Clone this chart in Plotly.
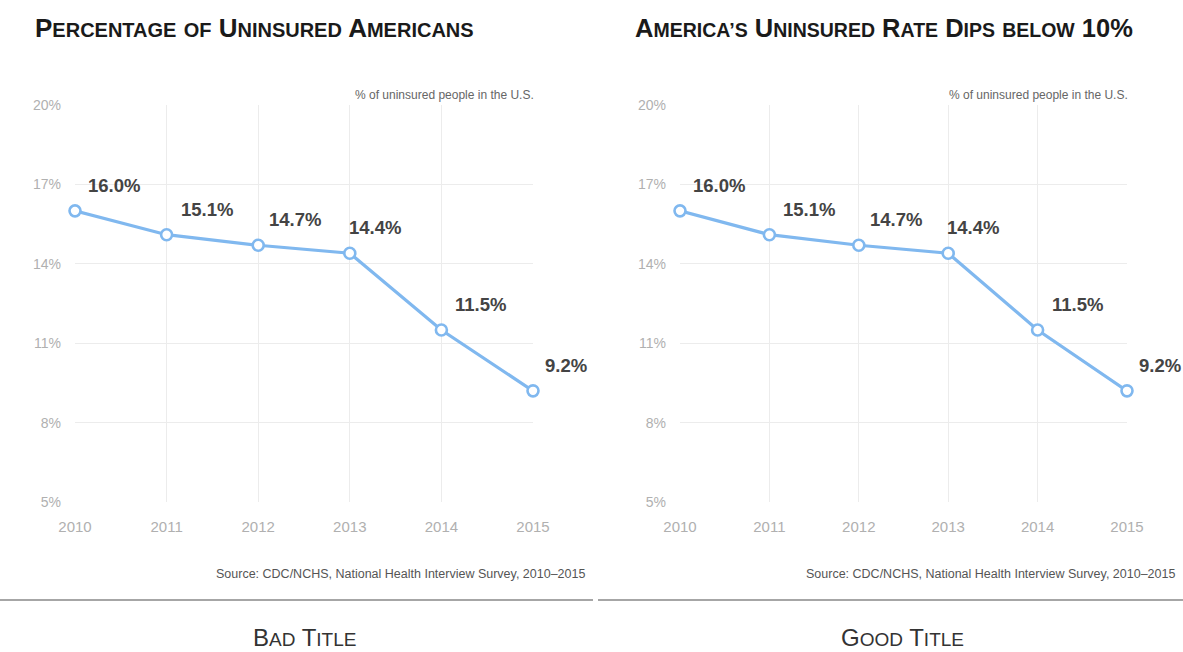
import plotly.graph_objects as go

years = [2010, 2011, 2012, 2013, 2014, 2015]
uninsured = [16.0, 15.1, 14.7, 14.4, 11.5, 9.2]
y_ticks = [5, 8, 11, 14, 17, 20]
y_tick_labels = ["5%", "8%", "11%", "14%", "17%", "20%"]
label_xshift = [11, 12, 9, -3, 12, 10]

W, H = 1183, 652
LINE = "#80b8ef"
FONT = "Liberation Sans, Arial, sans-serif"

def px_x(p):
    return p / W

def px_y(p):
    return 1 - p / H

fig = go.Figure()

panels = [("x", "y"), ("x2", "y2")]
for xa, ya in panels:
    fig.add_trace(go.Scatter(
        x=years, y=uninsured, xaxis=xa, yaxis=ya, mode="lines+markers",
        line=dict(color=LINE, width=3.2),
        marker=dict(symbol="circle", size=11, color="white",
                    line=dict(color=LINE, width=2.6)),
        cliponaxis=False, showlegend=False, hoverinfo="skip"))
    for i, (yr, v) in enumerate(zip(years, uninsured)):
        fig.add_annotation(x=yr, y=v, xref=xa, yref=ya, text=f"{v:.1f}%",
                           showarrow=False, xanchor="left", yanchor="bottom",
                           xshift=label_xshift[i], yshift=13,
                           font=dict(family=FONT, size=18.5, color="#444444", weight="bold"))

axis_common = dict(range=[2010, 2015], tickvals=years, ticktext=[str(y) for y in years],
                   showgrid=True, gridcolor="#ececec", gridwidth=1, zeroline=False,
                   showline=False, ticks="", ticklabelstandoff=14, automargin=False,
                   tickfont=dict(family=FONT, size=15, color="#b0b0b0"), fixedrange=True)
yaxis_common = dict(range=[5, 20], tickvals=y_ticks, ticktext=y_tick_labels,
                    showgrid=True, gridcolor="#ececec", gridwidth=1, zeroline=False,
                    showline=False, ticks="", ticklabelstandoff=13, automargin=False,
                    tickfont=dict(family=FONT, size=14, color="#b0b0b0"), fixedrange=True)

fig.update_layout(
    width=W, height=H, margin=dict(l=0, r=0, t=0, b=0, pad=0, autoexpand=False),
    paper_bgcolor="white", plot_bgcolor="white", showlegend=False,
    xaxis=dict(domain=[px_x(75), px_x(533)], anchor="y", **axis_common),
    yaxis=dict(domain=[px_y(502), px_y(105)], anchor="x", **yaxis_common),
    xaxis2=dict(domain=[px_x(680), px_x(1127)], anchor="y2", **axis_common),
    yaxis2=dict(domain=[px_y(502), px_y(105)], anchor="x2", **yaxis_common),
)

def sc(big, small, s=20):
    return f"{big}<span style='font-size:{s}px'>{small}</span>"

title_left = " ".join([sc("P", "ERCENTAGE"), sc("", "OF"), sc("U", "NINSURED"), sc("A", "MERICANS")])
title_right = " ".join([sc("A", "MERICA’S", 19.5), sc("U", "NINSURED", 19.5), sc("R", "ATE", 19.5),
                        sc("D", "IPS", 19.5), sc("", "BELOW", 19.5), "10%"])

fig.add_annotation(x=px_x(33), y=px_y(28), xref="paper", yref="paper", text=title_left,
                   showarrow=False, xanchor="left", yanchor="middle",
                   font=dict(family=FONT, size=26, color="#1a1a1a", weight="bold"))
fig.add_annotation(x=px_x(633), y=px_y(28), xref="paper", yref="paper", text=title_right,
                   showarrow=False, xanchor="left", yanchor="middle",
                   font=dict(family=FONT, size=25.5, color="#1a1a1a", weight="bold"))

for xr in [px_x(536), px_x(1130)]:
    fig.add_annotation(x=xr, y=px_y(95), xref="paper", yref="paper",
                       text="% of uninsured people in the U.S.", showarrow=False,
                       xanchor="right", yanchor="middle",
                       font=dict(family=FONT, size=12, color="#666666"))

for xr in [px_x(587), px_x(1177)]:
    fig.add_annotation(x=xr, y=px_y(574), xref="paper", yref="paper",
                       text="Source: CDC/NCHS, National Health Interview Survey, 2010–2015",
                       showarrow=False, xanchor="right", yanchor="middle",
                       font=dict(family=FONT, size=12.5, color="#555555"))

fig.add_shape(type="line", xref="paper", yref="paper", x0=0, x1=px_x(593),
              y0=px_y(600), y1=px_y(600), line=dict(color="#888888", width=1.5))
fig.add_shape(type="line", xref="paper", yref="paper", x0=px_x(598), x1=1,
              y0=px_y(600), y1=px_y(600), line=dict(color="#888888", width=1.5))

def sc2(big, small):
    return f"{big}<span style='font-size:19px'>{small}</span>"

fig.add_annotation(x=px_x(304), y=px_y(637), xref="paper", yref="paper",
                   text=sc2("B", "AD") + " " + sc2("T", "ITLE"), showarrow=False,
                   xanchor="center", yanchor="middle",
                   font=dict(family=FONT, size=24, color="#333333"))
fig.add_annotation(x=px_x(902), y=px_y(637), xref="paper", yref="paper",
                   text=sc2("G", "OOD") + " " + sc2("T", "ITLE"), showarrow=False,
                   xanchor="center", yanchor="middle",
                   font=dict(family=FONT, size=24, color="#333333"))

fig.write_html("out.html", config={"displayModeBar": False},
               post_script="document.body.style.margin='0';")
